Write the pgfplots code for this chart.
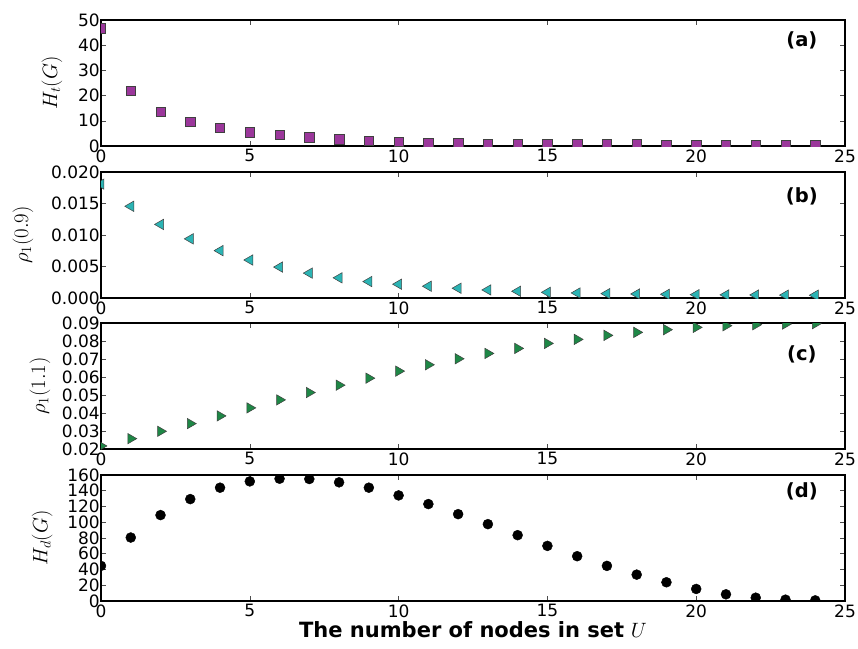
\documentclass[border=0pt]{standalone}
\usepackage{fontspec}
\setmainfont{DejaVu Sans}
\usepackage{pgfplots}
\pgfplotsset{compat=1.18}
\definecolor{cpurple}{RGB}{155,55,155}
\definecolor{ccyan}{RGB}{43,180,180}
\definecolor{cgreen}{RGB}{30,135,70}
\tikzset{plabel/.style={font=\bfseries\fontsize{19.5}{19.5}\selectfont}}
\pgfplotsset{
  ylab/.style={every axis y label/.style={at={(axis description cs:#1,0.5)}, rotate=90, anchor=center, font=\fontsize{20}{20}\selectfont}},
  panel/.style={
    width=744pt, height=126pt, scale only axis,
    anchor=north west,
    xmin=0, xmax=25, xtick={0,5,10,15,20,25},
    xticklabels={0,5,10,15,20,25},
    scaled y ticks=false,
    tick align=inside, major tick length=5pt,
    tick style={black!70, line width=0.6pt},
    tick label style={font=\fontsize{17}{17}\selectfont},
    /pgf/number format/assume math mode=true,
    axis line style={line width=1.1pt},
    clip marker paths=true,
    yticklabel style={inner xsep=1pt},
  },
}
\begin{document}
\begin{tikzpicture}
\path[use as bounding box] (-101pt,20pt) rectangle (757pt,-628pt);
% (a)
\begin{axis}[panel, ylab=-0.066, at={(0,0)}, ymin=0, ymax=50, ytick={0,10,20,30,40,50},
  yticklabels={0,10,20,30,40,50}, ylabel={$H_t(G)$}]
\addplot[only marks, mark=square*, mark size=4.7pt, mark options={fill=cpurple, draw=black!75, line width=0.5pt}]
coordinates {(0,46.8)(1,22.0)(2,13.7)(3,9.6)(4,7.2)(5,5.5)(6,4.4)(7,3.5)(8,2.7)(9,2.1)(10,1.6)(11,1.4)(12,1.1)(13,1.0)(14,0.9)(15,0.85)(16,0.75)(17,0.7)(18,0.65)(19,0.6)(20,0.55)(21,0.5)(22,0.5)(23,0.45)(24,0.4)};
\node[plabel] at (rel axis cs:0.942,0.84) {(a)};
\end{axis}
% (b)
\begin{axis}[panel, ylab=-0.105, at={(0,-152pt)}, ymin=0, ymax=0.02, ytick={0,0.005,0.01,0.015,0.02},
  yticklabels={0.000,0.005,0.010,0.015,0.020}, ylabel={$\rho_1(0.9)$}]
\addplot[only marks, mark=triangle*, mark size=6pt, mark options={rotate=90, fill=ccyan, draw=black!75, line width=0.5pt}]
coordinates {(0,0.01808)(1,0.01456)(2,0.01168)(3,0.00939)(4,0.00752)(5,0.00603)(6,0.00491)(7,0.00395)(8,0.0032)(9,0.00261)(10,0.00219)(11,0.00187)(12,0.00155)(13,0.00128)(14,0.00107)(15,0.0009)(16,0.0008)(17,0.0007)(18,0.00064)(19,0.00059)(20,0.00053)(21,0.0005)(22,0.00048)(23,0.00046)(24,0.00044)};
\node[plabel] at (rel axis cs:0.942,0.81) {(b)};
\end{axis}
% (c)
\begin{axis}[panel, ylab=-0.082, at={(0,-303pt)}, ymin=0.02, ymax=0.09, ytick={0.02,0.03,0.04,0.05,0.06,0.07,0.08,0.09},
  yticklabels={0.02,0.03,0.04,0.05,0.06,0.07,0.08,0.09}, ylabel={$\rho_1(1.1)$}]
\addplot[only marks, mark=triangle*, mark size=6pt, mark options={rotate=-90, fill=cgreen, draw=black!75, line width=0.5pt}]
coordinates {(0,0.0217)(1,0.02576)(2,0.02984)(3,0.03411)(4,0.03838)(5,0.04284)(6,0.04729)(7,0.05138)(8,0.05546)(9,0.05936)(10,0.06326)(11,0.06679)(12,0.07013)(13,0.0731)(14,0.07589)(15,0.07867)(16,0.0809)(17,0.08313)(18,0.0848)(19,0.08629)(20,0.08759)(21,0.08851)(22,0.08907)(23,0.08944)(24,0.0896)};
\node[plabel] at (rel axis cs:0.942,0.75) {(c)};
\end{axis}
% (d)
\begin{axis}[panel, ylab=-0.079, at={(0,-455pt)}, ymin=0, ymax=160, ytick={0,20,40,60,80,100,120,140,160},
  yticklabels={0,20,40,60,80,100,120,140,160}, ylabel={$H_d(G)$},
  xlabel={\textbf{The number of nodes in set} $U$},
  xlabel style={font=\fontsize{21}{21}\selectfont, yshift=3pt}]
\addplot[only marks, mark=*, mark size=5pt, mark options={fill=black, draw=black}]
coordinates {(0,44.6)(1,80.6)(2,109.1)(3,129.4)(4,143.9)(5,151.9)(6,155.3)(7,154.9)(8,150.7)(9,143.9)(10,134.1)(11,123.1)(12,110.3)(13,97.6)(14,83.6)(15,70.0)(16,56.9)(17,44.6)(18,33.5)(19,23.8)(20,15.3)(21,8.5)(22,4.2)(23,1.7)(24,0.8)};
\node[plabel] at (rel axis cs:0.942,0.87) {(d)};
\end{axis}
\end{tikzpicture}
\end{document}
